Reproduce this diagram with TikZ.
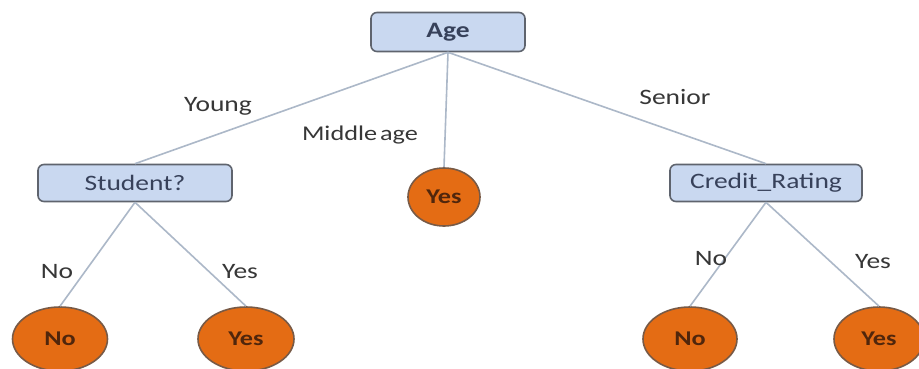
\documentclass[tikz,border=0pt]{standalone}
\usepackage{fontspec}
\setmainfont[FakeStretch=1.25]{Carlito}
\usetikzlibrary{shapes.geometric}
\definecolor{boxfill}{RGB}{201,216,240}
\definecolor{boxdraw}{RGB}{95,100,110}
\definecolor{boxtext}{RGB}{55,65,90}
\definecolor{leaffill}{RGB}{228,108,20}
\definecolor{leafdraw}{RGB}{120,90,70}
\definecolor{leaftext}{RGB}{80,38,12}
\definecolor{edgecol}{RGB}{172,184,200}
\definecolor{labcol}{RGB}{55,55,55}
\tikzset{
  decision/.style={draw=boxdraw, fill=boxfill, line width=1.6pt, rounded corners=6pt,
    text=boxtext, font=\fontsize{22}{24}\selectfont, inner sep=0pt},
  leaf/.style={ellipse, draw=leafdraw, fill=leaffill, line width=1.6pt,
    text=leaftext, font=\bfseries\fontsize{21}{23}\selectfont, inner sep=0pt},
  branch/.style={draw=edgecol, line width=1.6pt},
  blabel/.style={text=labcol, font=\fontsize{22}{24}\selectfont}
}
\begin{document}
\begin{tikzpicture}[x=1pt,y=-1pt]
  \useasboundingbox (0,0) rectangle (919,369);
  \clip (0,0) rectangle (919,369);
  \fill[white] (0,0) rectangle (919,369);

  % decision nodes
  \node[decision, minimum width=154pt, minimum height=39pt] (age) at (448,32) {\textbf{Age}};
  \node[decision, minimum width=194pt, minimum height=37pt] (student) at (135,183) {Student?};
  \node[decision, minimum width=192pt, minimum height=37pt] (credit) at (766,183) {Credit\_Rating};

  % leaves
  \node[leaf, minimum width=72pt, minimum height=58pt] (mid) at (444,197) {Yes};
  \node[leaf, minimum width=95pt, minimum height=64pt] (sno) at (60,339) {No};
  \node[leaf, minimum width=96pt, minimum height=64pt] (syes) at (246,339) {Yes};
  \node[leaf, minimum width=94pt, minimum height=64pt] (cno) at (690,339) {No};
  \node[leaf, minimum width=90pt, minimum height=64pt] (cyes) at (879,339) {Yes};

  % branches
  \draw[branch] (age.south) -- (student.north);
  \draw[branch] (age.south) -- (mid.north);
  \draw[branch] (age.south) -- (credit.north);
  \draw[branch] (student.south) -- (sno.north);
  \draw[branch] (student.south) -- (syes.north);
  \draw[branch] (credit.south) -- (cno.north);
  \draw[branch] (credit.south) -- (cyes.north);

  % branch labels
  \node[blabel] (lyoung) at (218,106) {Young};
  \node[blabel, font=\fontsize{21}{23}\selectfont] (lmid) at (360,135) {Middle\hspace{3pt}age};
  \node[blabel] (lsenior) at (675,97) {Senior};
  \node[blabel] (lsno) at (57,272) {No};
  \node[blabel] (lsyes) at (240,272) {Yes};
  \node[blabel] (lcno) at (711,259) {No};
  \node[blabel] (lcyes) at (873,262) {Yes};
\end{tikzpicture}
\end{document}
